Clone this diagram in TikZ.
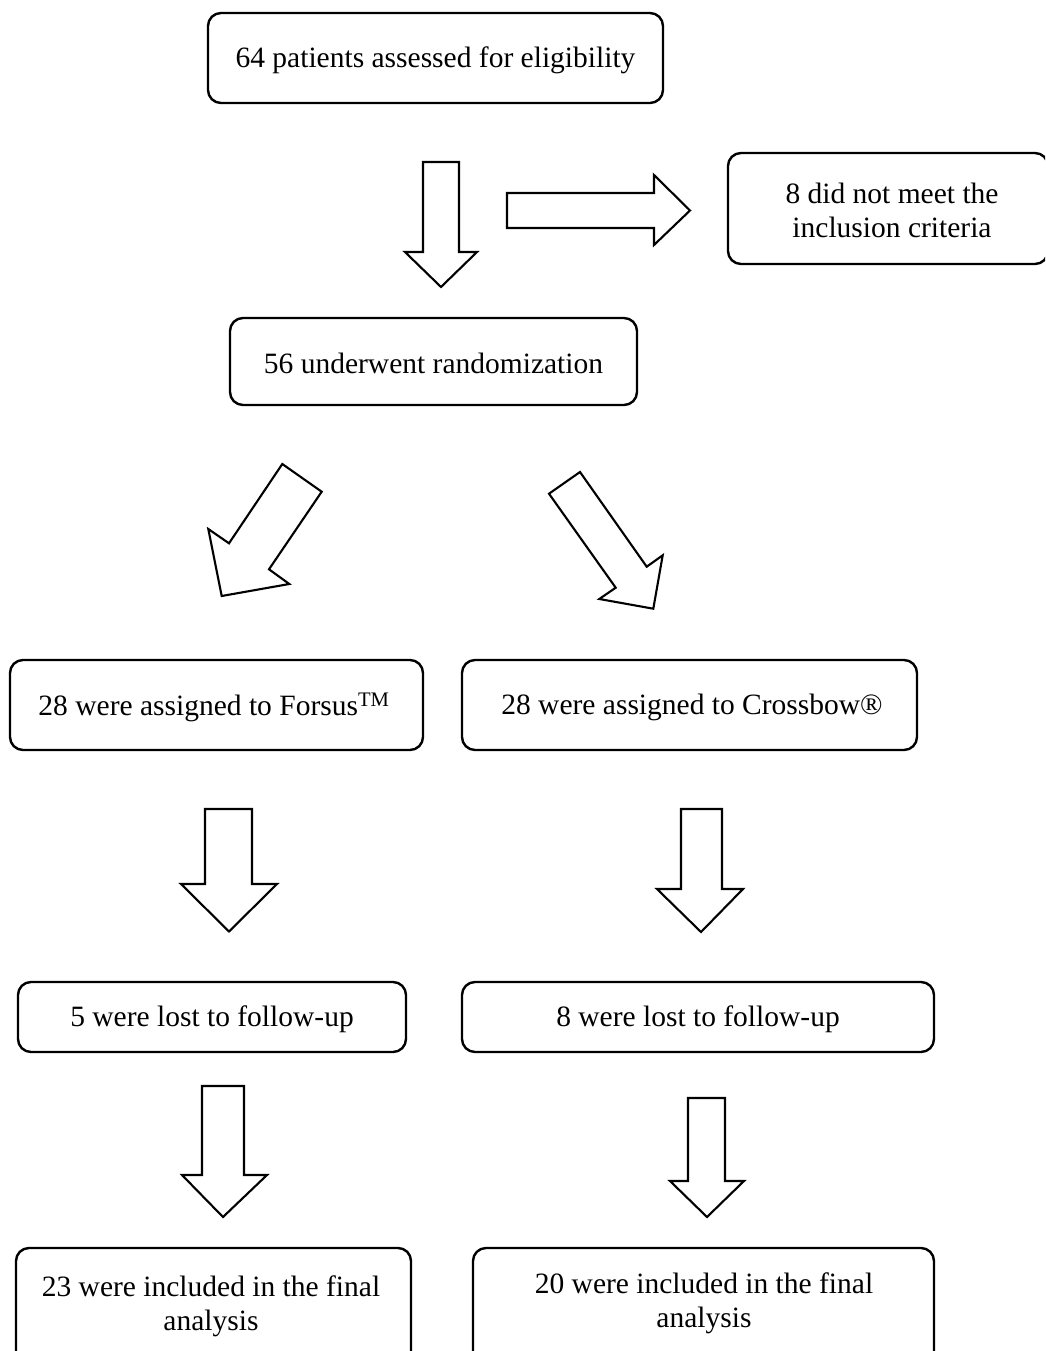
\documentclass[tikz,border=0pt]{standalone}
\usepackage{fontspec}
\setmainfont{Liberation Serif}
\begin{document}
\begin{tikzpicture}[x=1pt,y=-1pt,
  box/.style={draw=black,line width=2.4pt,rounded corners=13pt,inner sep=0pt},
  txt/.style={font=\fontsize{29.5}{34}\selectfont,align=center,inner sep=0pt,yshift=-2pt},
  blockarrow/.style={draw=black,line width=2.1pt,fill=white,line join=miter}]
\useasboundingbox (0,0) rectangle (1045,1351);
\clip (0,0) rectangle (1045,1351);
\fill[white] (0,0) rectangle (1045,1351);

% boxes
\node[box,minimum width=455,minimum height=90] (assess) at (435.5,58) {};
\node[txt] (assesst) at (assess.center) {64 patients assessed for eligibility};

\node[box,minimum width=320,minimum height=111] (excl) at (888,208.5) {};
\node[txt] (exclt) at (892,208) {8 did not meet the\\inclusion criteria};

\node[box,minimum width=407,minimum height=87] (rand) at (433.5,361.5) {};
\node[txt] (randt) at (rand.center) {56 underwent randomization};

\node[box,minimum width=413,minimum height=90] (forsus) at (216.5,705) {};
\node[txt] (forsust) at (214,705) {28 were assigned to Forsus\textsuperscript{TM}};

\node[box,minimum width=455,minimum height=90] (cross) at (689.5,705) {};
\node[txt] (crosst) at (692,705) {28 were assigned to Crossbow®};

\node[box,minimum width=388,minimum height=70] (lostL) at (212,1017) {};
\node[txt] (lostLt) at (lostL.center) {5 were lost to follow-up};

\node[box,minimum width=472,minimum height=70] (lostR) at (698,1017) {};
\node[txt] (lostRt) at (698,1017) {8 were lost to follow-up};

\node[box,minimum width=395,minimum height=130] (finL) at (213.5,1313) {};
\node[txt] (finLt) at (211,1304) {23 were included in the final\\analysis};

\node[box,minimum width=461,minimum height=130] (finR) at (703.5,1313) {};
\node[txt] (finRt) at (704,1301) {20 were included in the final\\analysis};

% block arrows
\draw[blockarrow] (423,162) -- (459,162) -- (459,252) -- (477,252) -- (441,287) -- (405,252) -- (423,252) -- cycle;
\draw[blockarrow] (507,193) -- (654,193) -- (654,175) -- (690,210.5) -- (654,245) -- (654,228) -- (507,228) -- cycle;

\draw[blockarrow] (282.3,464) -- (321.7,491.7) -- (269,569.3) -- (289.3,584) -- (221.7,596) -- (208.3,529) -- (229,543.3) -- cycle;
\draw[blockarrow] (580,472) -- (549,493.7) -- (615.7,587.7) -- (599.3,599) -- (653.3,608.7) -- (662.7,555.3) -- (646.7,566.7) -- cycle;

\draw[blockarrow] (205,809) -- (252,809) -- (252,884) -- (277,884) -- (229,931.5) -- (181,884) -- (205,884) -- cycle;
\draw[blockarrow] (681,809) -- (722,809) -- (722,889) -- (743,889) -- (701,932) -- (657,889) -- (681,889) -- cycle;

\draw[blockarrow] (202,1086) -- (244,1086) -- (244,1175) -- (267,1175) -- (223,1217) -- (182,1175) -- (202,1175) -- cycle;
\draw[blockarrow] (688,1098) -- (725,1098) -- (725,1181) -- (744,1181) -- (707,1217) -- (670,1181) -- (688,1181) -- cycle;
\end{tikzpicture}
\end{document}
